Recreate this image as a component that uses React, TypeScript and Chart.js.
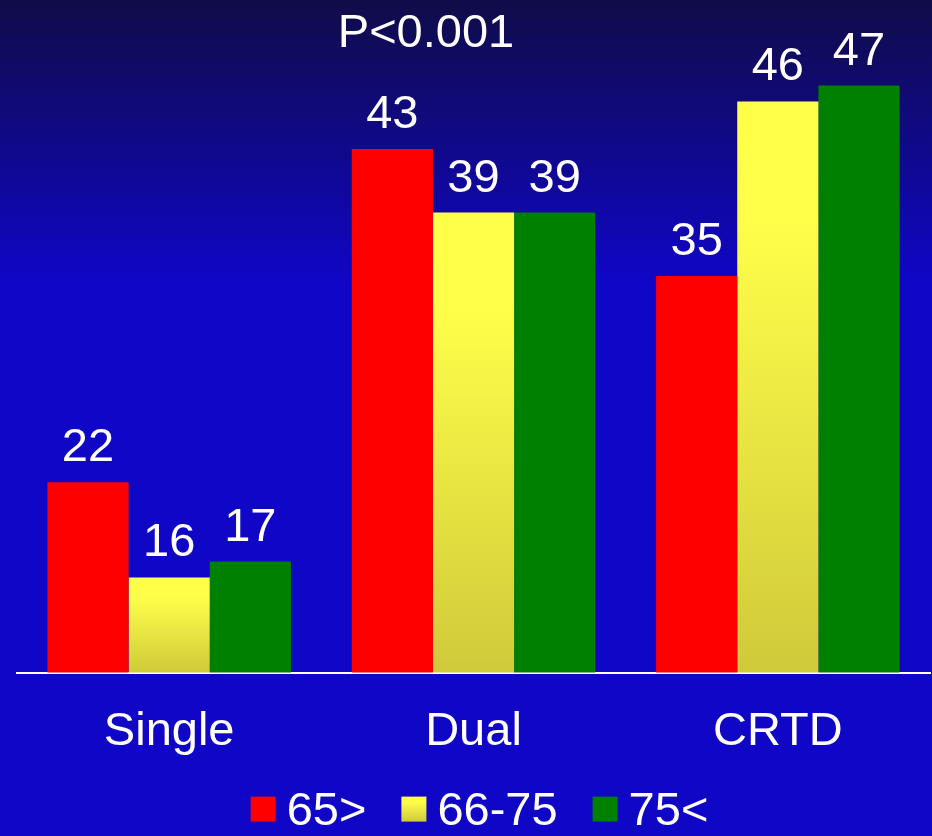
import React, { useEffect, useRef } from "react";
import { Chart, registerables } from "chart.js";

Chart.register(...registerables);

const categories = ["Single", "Dual", "CRTD"];
const seriesLabels = ["65>", "66-75", "75<"];
const ageUnder65 = [22, 43, 35];
const age66to75 = [16, 39, 46];
const ageOver75 = [17, 39, 47];
const titleText = "P<0.001";
const yMin = 10;
const yMax = 50;

const FONT = "'Liberation Sans', Arial, Helvetica, sans-serif";
const FONT_SIZE = 47;

const RED = "#FF0000";
const GREEN = "#008000";
const YELLOW_TOP = "#FFFF4A";
const YELLOW_BOTTOM = "#CFCA3A";

function yellowGradient(ctx: CanvasRenderingContext2D, top: number, bottom: number) {
  const g = ctx.createLinearGradient(0, top, 0, bottom);
  g.addColorStop(0, YELLOW_TOP);
  g.addColorStop(0.2, YELLOW_TOP);
  g.addColorStop(1, YELLOW_BOTTOM);
  return g;
}

const backgroundPlugin = {
  id: "bgGradient",
  beforeDraw(chart: any) {
    const { ctx, width, height } = chart;
    ctx.save();
    const g = ctx.createLinearGradient(0, 0, 0, 280);
    g.addColorStop(0, "#100C48");
    g.addColorStop(1, "#1006C6");
    ctx.fillStyle = g;
    ctx.fillRect(0, 0, width, height);
    ctx.restore();
  },
};

const labelsPlugin = {
  id: "valueLabels",
  afterDatasetsDraw(chart: any) {
    const { ctx } = chart;
    ctx.save();
    ctx.fillStyle = "#FFFFFF";
    ctx.font = `${FONT_SIZE}px ${FONT}`;
    ctx.textAlign = "center";
    ctx.textBaseline = "alphabetic";
    chart.data.datasets.forEach((ds: any, i: number) => {
      const meta = chart.getDatasetMeta(i);
      meta.data.forEach((el: any, j: number) => {
        ctx.fillText(String(ds.data[j]), el.x, el.y - 21);
      });
    });
    // title
    ctx.fillText(titleText, chart.chartArea.left + 409, 47);
    ctx.restore();
  },
};

const legendPlugin = {
  id: "customLegend",
  afterDraw(chart: any) {
    const { ctx, chartArea } = chart;
    ctx.save();
    ctx.font = `${FONT_SIZE}px ${FONT}`;
    ctx.textBaseline = "alphabetic";
    ctx.textAlign = "left";
    const box = 25;
    const gap = 11;
    const spacing = 35;
    const widths = chart.data.datasets.map((ds: any) => box + gap + ctx.measureText(ds.label).width);
    const total = widths.reduce((a: number, b: number) => a + b, 0) + spacing * (widths.length - 1);
    const center = (chartArea.left + chartArea.right) / 2 + 6;
    let x = center - total / 2;
    const boxTop = chartArea.bottom + 124;
    const baseline = chartArea.bottom + 152;
    chart.data.datasets.forEach((ds: any, i: number) => {
      if (i === 1) ctx.fillStyle = yellowGradient(ctx, boxTop, boxTop + box);
      else ctx.fillStyle = ds.legendColor;
      ctx.fillRect(x, boxTop, box, box);
      ctx.fillStyle = "#FFFFFF";
      ctx.fillText(ds.label, x + box + gap, baseline);
      x += widths[i] + spacing;
    });
    ctx.restore();
  },
};

function yellowFill(c: any) {
  const chart = c.chart;
  const { ctx, chartArea, scales } = chart;
  if (!chartArea || !scales || !scales.y || c.type !== "data") return YELLOW_TOP;
  const top = scales.y.getPixelForValue(c.raw);
  const bottom = scales.y.getPixelForValue(scales.y.min);
  if (!isFinite(top) || !isFinite(bottom) || bottom <= top) return YELLOW_TOP;
  return yellowGradient(ctx, top, bottom);
}

export default function App() {
  const canvasRef = useRef<HTMLCanvasElement | null>(null);

  useEffect(() => {
    const canvas = canvasRef.current;
    if (!canvas) return;
    const chart = new Chart(canvas, {
      type: "bar",
      data: {
        labels: categories,
        datasets: [
          { label: seriesLabels[0], data: ageUnder65, backgroundColor: RED, legendColor: RED } as any,
          { label: seriesLabels[1], data: age66to75, backgroundColor: yellowFill, legendColor: YELLOW_TOP } as any,
          { label: seriesLabels[2], data: ageOver75, backgroundColor: GREEN, legendColor: GREEN } as any,
        ],
      },
      options: {
        responsive: false,
        animation: false,
        devicePixelRatio: 1,
        layout: { padding: { left: 17, right: 2, top: 38, bottom: 45 } },
        datasets: {
          bar: { barPercentage: 1.0, categoryPercentage: 0.8, borderWidth: 0 },
        },
        plugins: {
          legend: { display: false },
          title: { display: false },
          tooltip: { enabled: false },
        },
        scales: {
          x: {
            grid: { display: false, drawTicks: false },
            border: { display: true, color: "#FFFFFF", width: 2 },
            ticks: {
              color: "#FFFFFF",
              padding: 31,
              font: { family: FONT, size: FONT_SIZE },
            },
          },
          y: {
            display: false,
            min: yMin,
            max: yMax,
          },
        },
      },
      plugins: [backgroundPlugin, labelsPlugin, legendPlugin],
    });
    return () => chart.destroy();
  }, []);

  return (
    <div style={{ position: "absolute", left: 0, top: 0, width: 932, height: 836 }}>
      <canvas ref={canvasRef} width={932} height={836} style={{ width: 932, height: 836, display: "block" }} />
    </div>
  );
}
